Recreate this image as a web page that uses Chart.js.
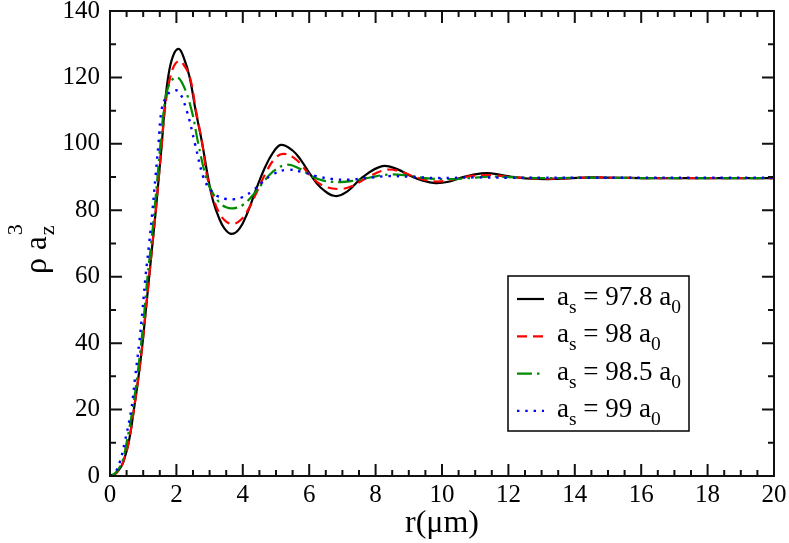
<!DOCTYPE html>
<html>
<head>
<meta charset="utf-8">
<script src="https://cdn.jsdelivr.net/npm/chart.js@4.4.1/dist/chart.umd.min.js"></script>
<style>
  body { margin: 0; background: #fff; }
  #wrap { width: 789px; height: 543px; }
</style>
</head>
<body>
<div id="wrap"><canvas id="densityChart" width="789" height="543"></canvas></div>
<script>
// values: r in micrometres, density rho*az^3
const rBlack = [0, 0.15, 0.3, 0.4, 0.56, 0.72, 0.86, 0.98, 1.08, 1.18, 1.28, 1.38, 1.47, 1.56, 1.64, 1.75, 1.9, 2.07, 2.22, 2.4, 2.58, 2.78, 2.95, 3.1, 3.27, 3.45, 3.66, 3.9, 4.15, 4.4, 4.65, 4.9, 5.15, 5.5, 5.75, 6.02, 6.35, 6.78, 7.15, 7.6, 8.2, 8.65, 9.04, 9.4, 9.8, 10.2, 10.54, 10.9, 11.35, 11.8, 12.2, 12.7, 13.2, 13.8, 14.5, 15.2, 16, 17, 18, 19, 20];
const vBlack = [0, 0.6, 2.3, 4.2, 10, 20, 30, 40, 50, 60, 70, 80, 90, 100, 110, 120, 126.5, 128.6, 126, 120, 110, 100, 90, 83, 78, 74.5, 72.9, 74.5, 79.5, 86.3, 92.5, 97.2, 99.7, 98.0, 95.1, 91.0, 86.8, 84.3, 85.7, 89.9, 93.3, 92.4, 90.4, 89, 88.2, 88.6, 89.7, 90.6, 91.2, 90.6, 90, 89.5, 89.4, 89.6, 89.9, 89.8, 89.7, 89.7, 89.7, 89.7, 89.7];

const rRed = [0, 0.15, 0.3, 0.4, 0.56, 0.72, 0.86, 0.98, 1.08, 1.18, 1.28, 1.38, 1.47, 1.56, 1.65, 1.78, 1.93, 2.09, 2.24, 2.41, 2.59, 2.78, 2.93, 3.1, 3.3, 3.5, 3.71, 3.95, 4.2, 4.45, 4.7, 4.95, 5.22, 5.6, 6.02, 6.4, 6.88, 7.3, 7.7, 8.33, 8.8, 9.2, 9.75, 10.3, 10.8, 11.4, 12.0, 12.7, 13.3, 14, 14.6, 15.3, 16, 17, 18, 19, 20];
const vRed = [0, 0.6, 2.3, 4.3, 10, 20, 30, 40, 50, 60, 70, 80, 90, 100, 110, 118.5, 123.5, 125, 123.5, 120, 110, 100, 90, 84, 79, 76.6, 75.9, 77.2, 80.9, 86.1, 91.4, 95.4, 97, 95.3, 90.6, 87.5, 86.4, 87.3, 89.6, 92.2, 91.5, 90, 88.7, 89.2, 90.2, 90.6, 90.1, 89.6, 89.5, 89.7, 89.9, 89.8, 89.7, 89.7, 89.7, 89.7, 89.7];

const rGreen = [0, 0.15, 0.3, 0.38, 0.5, 0.68, 0.82, 0.94, 1.04, 1.13, 1.24, 1.34, 1.43, 1.52, 1.62, 1.75, 1.99, 2.2, 2.46, 2.66, 2.89, 3.05, 3.3, 3.5, 3.71, 4.0, 4.3, 4.6, 4.9, 5.32, 5.7, 6.02, 6.4, 6.93, 7.4, 7.8, 8.43, 9.0, 9.5, 10.1, 10.7, 11.4, 12.0, 13, 14, 15, 16, 17, 18, 19, 20];
const vGreen = [0, 0.8, 2.8, 4.5, 10, 20, 30, 40, 50, 60, 70, 80, 90, 100, 110, 117, 120.1, 117.8, 110, 100, 90, 86, 82.3, 80.9, 80.6, 81.6, 84.5, 88.2, 91.6, 93.7, 92.6, 90.6, 89, 88.5, 89, 89.8, 90.8, 90.4, 89.7, 89.4, 89.6, 90.1, 90, 89.7, 89.8, 89.8, 89.7, 89.7, 89.7, 89.7, 89.7];

const rBlue = [0, 0.15, 0.29, 0.44, 0.64, 0.76, 0.88, 0.98, 1.07, 1.18, 1.28, 1.37, 1.46, 1.55, 1.68, 1.85, 2.06, 2.31, 2.56, 2.81, 3.0, 3.25, 3.5, 3.71, 4.0, 4.3, 4.6, 4.9, 5.32, 5.8, 6.2, 6.7, 7.2, 7.8, 8.4, 9.0, 9.9, 11.0, 12.0, 13, 14, 16, 18, 20];
const vBlue = [0, 1, 4, 10, 20, 30, 40, 50, 60, 70, 80, 90, 100, 110, 114, 115.8, 115.8, 110, 100, 90, 86.5, 84.2, 83.4, 83.3, 84, 85.9, 88.5, 90.8, 92.2, 91.5, 90.3, 89.4, 89.2, 89.8, 90.3, 90.1, 89.7, 89.9, 89.8, 89.8, 89.8, 89.8, 89.8, 89.8];

const scatteringLengths = ['97.8', '98', '98.5', '99'];

const xTicks = [0, 2, 4, 6, 8, 10, 12, 14, 16, 18, 20];
const yTicks = [0, 20, 40, 60, 80, 100, 120, 140];

const SERIF = '"Liberation Serif", "Times New Roman", Tinos, Times, "Noto Serif", "DejaVu Serif", serif';

function toPoints(rs, vs) {
  return rs.map((r, i) => ({ x: r, y: vs[i] }));
}

// draw a string made of normal / subscript pieces
function drawRich(ctx, parts, x, y, size) {
  let cx = x;
  parts.forEach(p => {
    const s = p.sub ? size * 0.72 : size;
    ctx.font = s + 'px ' + SERIF;
    const dy = p.sub ? size * 0.3 : 0;
    ctx.fillText(p.t, cx, y + dy);
    cx += ctx.measureText(p.t).width;
  });
  return cx;
}

const framePlugin = {
  id: 'frame',
  afterDatasetsDraw(chart) {
    const ctx = chart.ctx;
    const { left, right, top, bottom } = chart.chartArea;
    const xs = chart.scales.x, ys = chart.scales.y;
    ctx.save();
    ctx.strokeStyle = '#111';
    ctx.lineWidth = 2;
    ctx.setLineDash([]);

    // inward ticks on all four sides, minor every 0.5 / 10
    for (let i = 0; i <= 40; i++) {
      const v = i * 0.5;
      const len = i % 4 === 0 ? 12 : 6;
      const px = xs.getPixelForValue(v);
      ctx.beginPath();
      ctx.moveTo(px, bottom); ctx.lineTo(px, bottom - len);
      ctx.moveTo(px, top); ctx.lineTo(px, top + len);
      ctx.stroke();
    }
    for (let i = 0; i <= 14; i++) {
      const v = i * 10;
      const len = i % 2 === 0 ? 12 : 6;
      const py = ys.getPixelForValue(v);
      ctx.beginPath();
      ctx.moveTo(left, py); ctx.lineTo(left + len, py);
      ctx.moveTo(right, py); ctx.lineTo(right - len, py);
      ctx.stroke();
    }
    ctx.strokeRect(left, top, right - left, bottom - top);

    // legend box
    const bx = 508, by = 276, bw = 181, bh = 155;
    ctx.fillStyle = '#fff';
    ctx.fillRect(bx, by, bw, bh);
    ctx.lineWidth = 1.5;
    ctx.strokeStyle = '#000';
    ctx.strokeRect(bx, by, bw, bh);
    ctx.textBaseline = 'alphabetic';
    ctx.textAlign = 'left';
    chart.data.datasets.forEach((ds, i) => {
      const base = 305 + i * 37.3;
      ctx.strokeStyle = ds.borderColor;
      ctx.lineWidth = ds.borderWidth;
      ctx.setLineDash(ds.borderDash || []);
      ctx.beginPath();
      ctx.moveTo(517, base - 6);
      ctx.lineTo(544, base - 6);
      ctx.stroke();
      ctx.setLineDash([]);
      ctx.fillStyle = '#000';
      drawRich(ctx, [
        { t: 'a' }, { t: 's', sub: true },
        { t: ' = ' + scatteringLengths[i] + ' a' }, { t: '0', sub: true }
      ], 557, base, 27);
    });

    // y axis title: rho a_z^3, rotated
    ctx.save();
    ctx.translate(46, 274);
    ctx.rotate(-Math.PI / 2);
    ctx.fillStyle = '#000';
    ctx.font = '32px ' + SERIF;
    ctx.fillText('ρ', 0, 0);
    let w = ctx.measureText('ρ ').width;
    ctx.font = '31px ' + SERIF;
    ctx.fillText('a', w, 0);
    w += ctx.measureText('a').width + 1;
    ctx.font = '22px ' + SERIF;
    ctx.fillText('z', w, 8);
    ctx.fillText('3', w, -24);
    ctx.restore();

    ctx.restore();
  }
};

const ctx = document.getElementById('densityChart').getContext('2d');
const chart = new Chart(ctx, {
  type: 'line',
  data: {
    datasets: [
      { label: 'as = 97.8 a0', data: toPoints(rBlack, vBlack), borderColor: '#000000', borderWidth: 2.2, order: 4 },
      { label: 'as = 98 a0', data: toPoints(rRed, vRed), borderColor: '#ff0000', borderWidth: 2.2, borderDash: [10, 6], order: 3 },
      { label: 'as = 98.5 a0', data: toPoints(rGreen, vGreen), borderColor: '#008b00', borderWidth: 2.2, borderDash: [15, 5, 2.5, 5], order: 2 },
      { label: 'as = 99 a0', data: toPoints(rBlue, vBlue), borderColor: '#0000ff', borderWidth: 2.4, borderDash: [2.4, 5.9], order: 1 }
    ]
  },
  options: {
    responsive: false,
    animation: false,
    devicePixelRatio: 1,
    layout: { padding: { left: 0, top: 11, right: 15, bottom: 0 } },
    elements: {
      point: { radius: 0 },
      line: { tension: 0.4, fill: false, borderCapStyle: 'butt' }
    },
    plugins: {
      legend: { display: false },
      tooltip: { enabled: false }
    },
    scales: {
      x: {
        type: 'linear',
        min: 0,
        max: 20,
        grid: { display: false, drawTicks: false },
        border: { display: false },
        afterBuildTicks: s => { s.ticks = xTicks.map(v => ({ value: v })); },
        afterFit: s => { s.height = 67; s.paddingLeft = 0; s.paddingRight = 0; },
        ticks: {
          padding: 4,
          maxRotation: 0,
          autoSkip: false,
          color: '#000',
          font: { family: SERIF, size: 25 }
        },
        title: {
          display: true,
          text: 'r(μm)',
          color: '#000',
          font: { family: SERIF, size: 32, lineHeight: 1.2 },
          padding: { top: 0, bottom: 0 }
        }
      },
      y: {
        type: 'linear',
        min: 0,
        max: 140,
        grid: { display: false, drawTicks: false },
        border: { display: false },
        afterBuildTicks: s => { s.ticks = yTicks.map(v => ({ value: v })); },
        afterFit: s => { s.width = 110; s.paddingTop = 0; s.paddingBottom = 0; },
        ticks: {
          padding: 10,
          autoSkip: false,
          color: '#000',
          font: { family: SERIF, size: 25 }
        }
      }
    }
  },
  plugins: [framePlugin]
});
</script>
</body>
</html>
